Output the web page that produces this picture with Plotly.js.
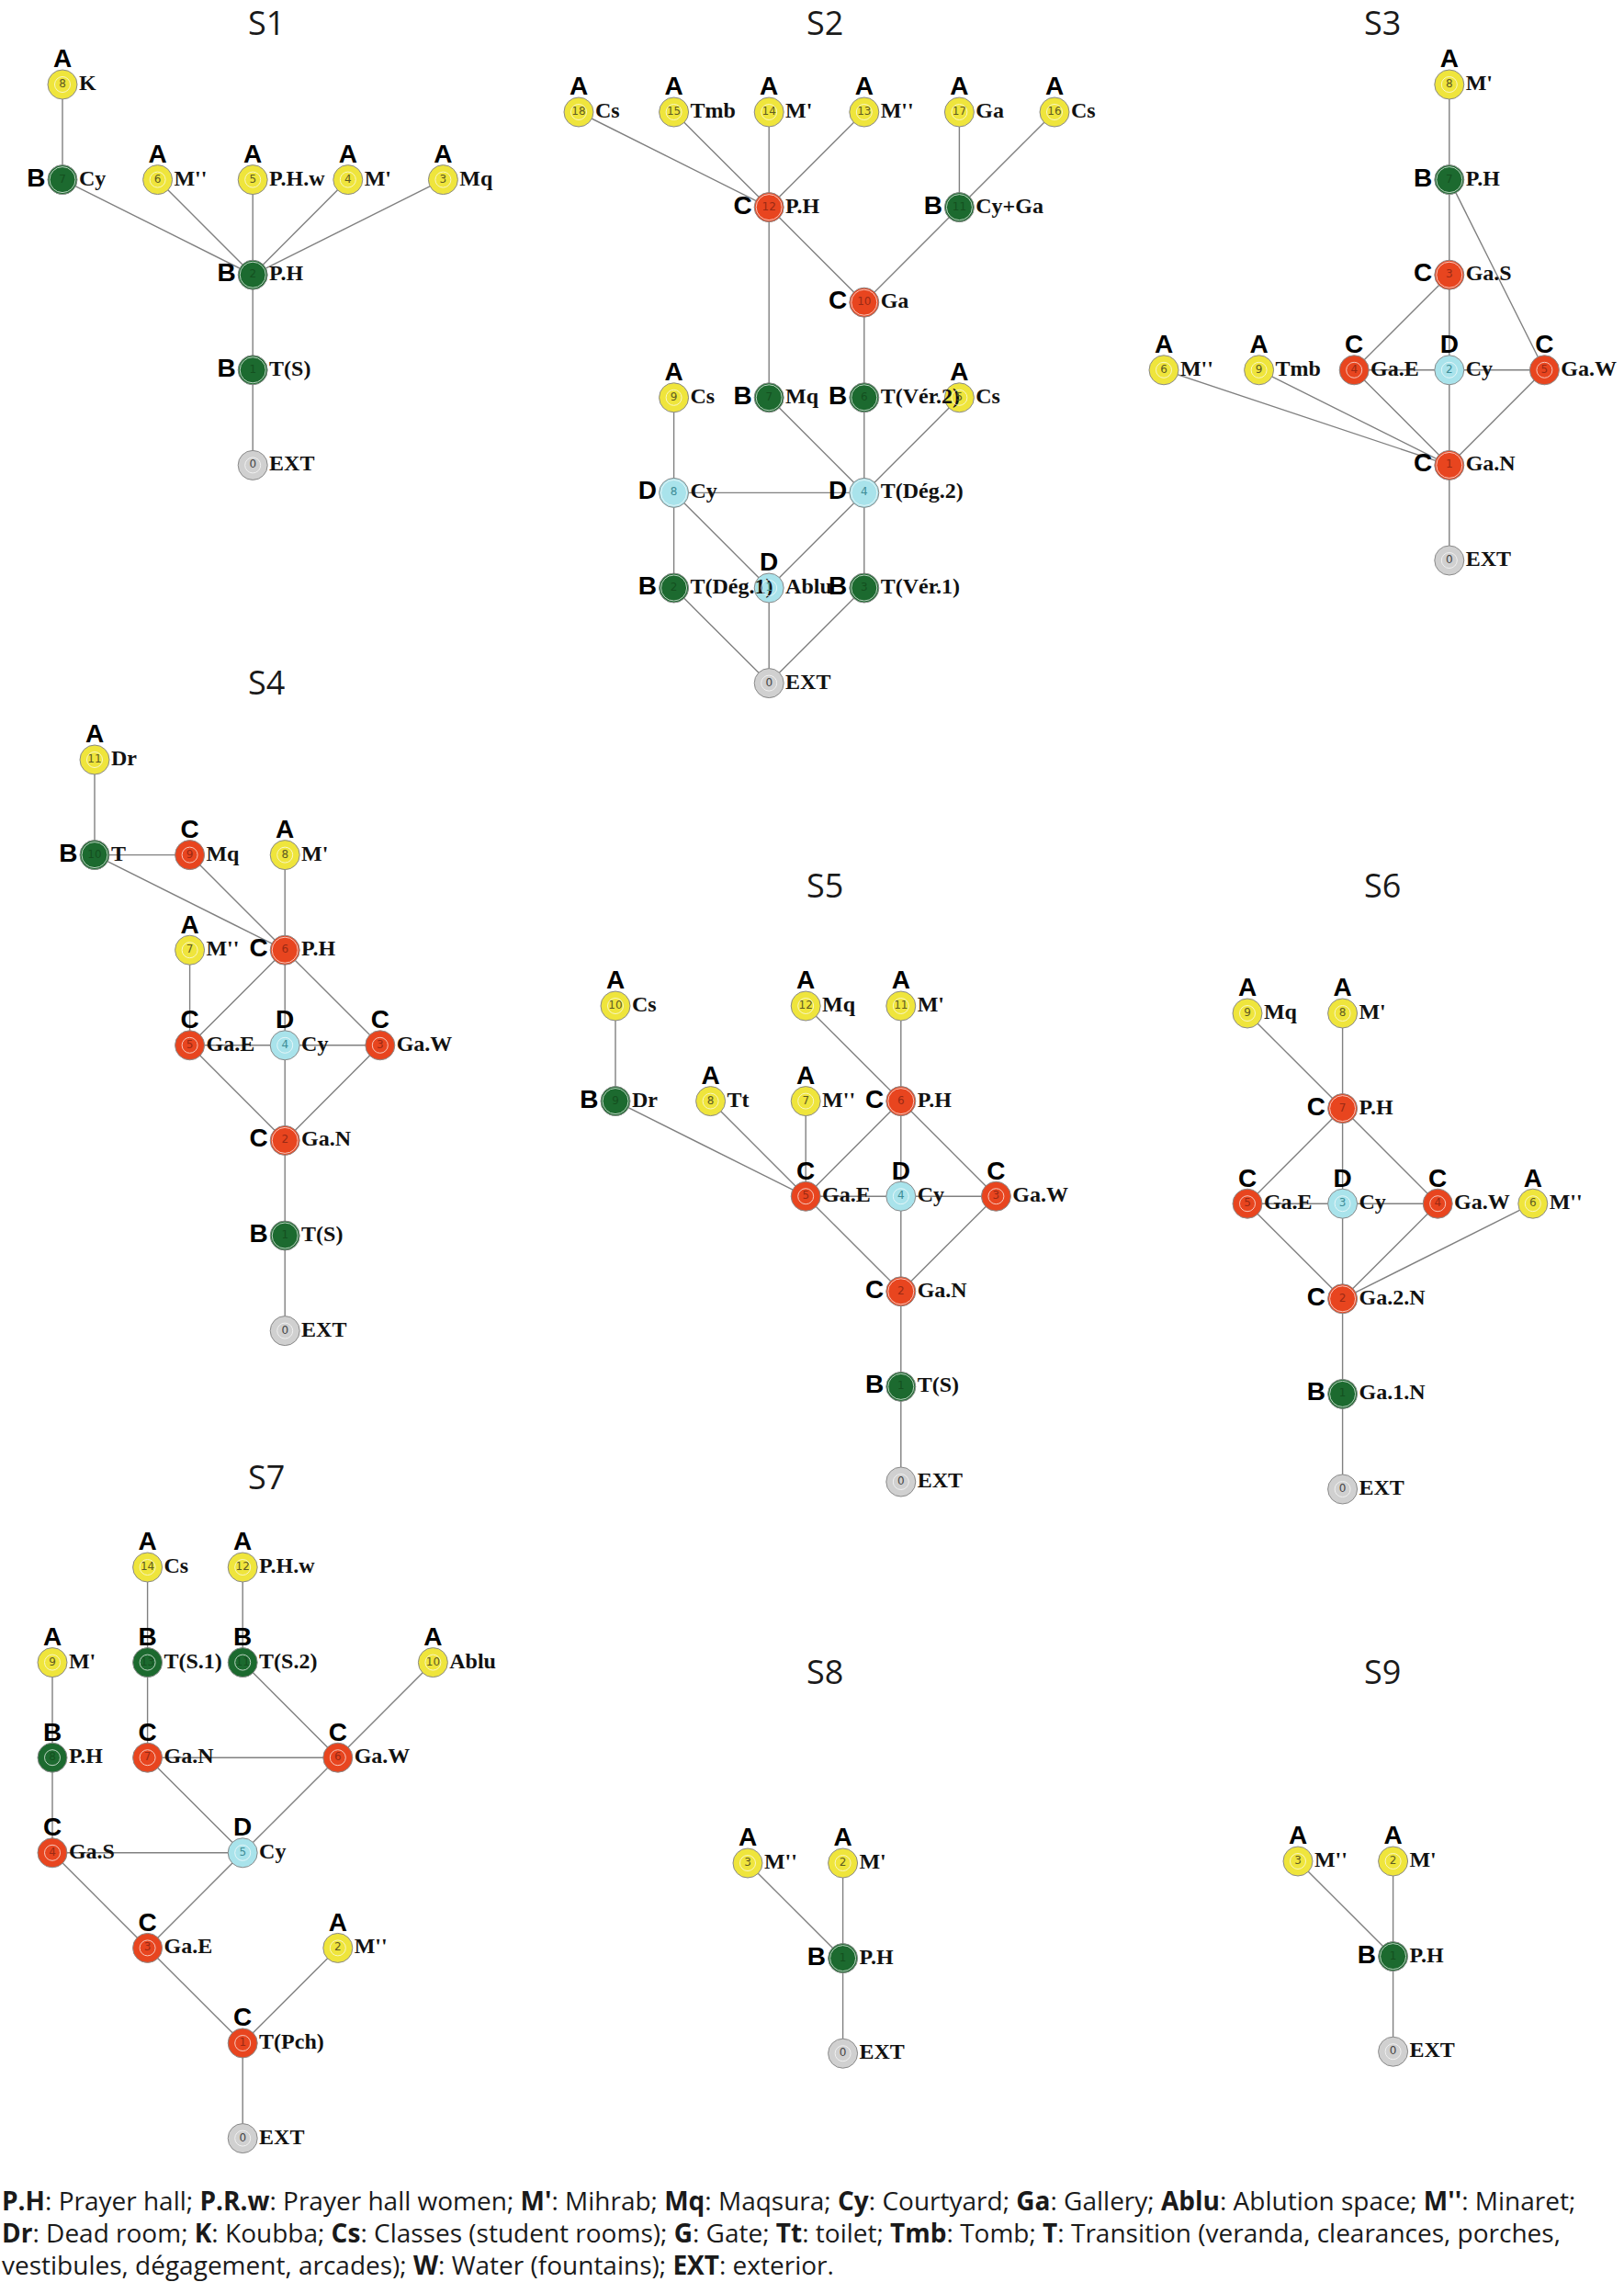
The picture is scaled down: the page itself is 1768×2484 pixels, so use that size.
<!DOCTYPE html>
<html>
<head>
<meta charset="utf-8">
<script src="https://cdn.plot.ly/plotly-3.0.1.min.js"></script>
<style>body{margin:0;background:#fff}</style>
</head>
<body>
<div id="chart" style="width:1768px;height:2484px"></div>
<script>
// ---- graph data: node id, name, access class, grid column/level, edges ----
// tag side: t = class letter above node, l = left of node

// S1
const s1_ids = [8, 7, 6, 5, 4, 3, 2, 1, 0];
const s1_names = ["K", "Cy", "M''", "P.H.w", "M'", "Mq", "P.H", "T(S)", "EXT"];
const s1_class = ["A", "B", "A", "A", "A", "A", "B", "B", ""];
const s1_tag = ["t", "l", "t", "t", "t", "t", "l", "l", ""];
const s1_col = [0, 0, 1, 2, 3, 4, 2, 2, 2];
const s1_level = [0, 1, 1, 1, 1, 1, 2, 3, 4];
const s1_edges = [[8, 7], [7, 2], [6, 2], [5, 2], [4, 2], [3, 2], [2, 1], [1, 0]];

// S2
const s2_ids = [18, 15, 14, 13, 17, 16, 12, 11, 10, 9, 7, 6, 5, 8, 4, 2, 1, 3, 0];
const s2_names = ["Cs", "Tmb", "M'", "M''", "Ga", "Cs", "P.H", "Cy+Ga", "Ga", "Cs", "Mq", "T(Vér.2)", "Cs", "Cy", "T(Dég.2)", "T(Dég.1)", "Ablu", "T(Vér.1)", "EXT"];
const s2_class = ["A", "A", "A", "A", "A", "A", "C", "B", "C", "A", "B", "B", "A", "D", "D", "B", "D", "B", ""];
const s2_tag = ["t", "t", "t", "t", "t", "t", "l", "l", "l", "t", "l", "l", "t", "l", "l", "l", "t", "l", ""];
const s2_col = [0, 1, 2, 3, 4, 5, 2, 4, 3, 1, 2, 3, 4, 1, 3, 1, 2, 3, 2];
const s2_level = [0, 0, 0, 0, 0, 0, 1, 1, 2, 3, 3, 3, 3, 4, 4, 5, 5, 5, 6];
const s2_edges = [[18, 12], [15, 12], [14, 12], [13, 12], [17, 11], [16, 11], [12, 10], [11, 10], [12, 7], [10, 6],
    [9, 8], [7, 4], [6, 4], [5, 4], [8, 4], [8, 2], [8, 1], [4, 1], [4, 3], [2, 0], [1, 0], [3, 0]];

// S3
const s3_ids = [8, 7, 3, 6, 9, 4, 2, 5, 1, 0];
const s3_names = ["M'", "P.H", "Ga.S", "M''", "Tmb", "Ga.E", "Cy", "Ga.W", "Ga.N", "EXT"];
const s3_class = ["A", "B", "C", "A", "A", "C", "D", "C", "C", ""];
const s3_tag = ["t", "l", "l", "t", "t", "t", "t", "t", "l", ""];
const s3_col = [3, 3, 3, 0, 1, 2, 3, 4, 3, 3];
const s3_level = [0, 1, 2, 3, 3, 3, 3, 3, 4, 5];
const s3_edges = [[8, 7], [7, 3], [7, 5], [3, 4], [3, 2], [4, 2], [2, 5], [4, 1], [2, 1], [5, 1], [6, 1], [9, 1], [1, 0]];

// S4
const s4_ids = [11, 10, 9, 8, 7, 6, 5, 4, 3, 2, 1, 0];
const s4_names = ["Dr", "T", "Mq", "M'", "M''", "P.H", "Ga.E", "Cy", "Ga.W", "Ga.N", "T(S)", "EXT"];
const s4_class = ["A", "B", "C", "A", "A", "C", "C", "D", "C", "C", "B", ""];
const s4_tag = ["t", "l", "t", "t", "t", "l", "t", "t", "t", "l", "l", ""];
const s4_col = [0, 0, 1, 2, 1, 2, 1, 2, 3, 2, 2, 2];
const s4_level = [0, 1, 1, 1, 2, 2, 3, 3, 3, 4, 5, 6];
const s4_edges = [[11, 10], [10, 9], [10, 6], [9, 6], [8, 6], [7, 5], [6, 5], [6, 4], [6, 3], [5, 4], [4, 3],
    [5, 2], [4, 2], [3, 2], [2, 1], [1, 0]];

// S5
const s5_ids = [10, 12, 11, 9, 8, 7, 6, 5, 4, 3, 2, 1, 0];
const s5_names = ["Cs", "Mq", "M'", "Dr", "Tt", "M''", "P.H", "Ga.E", "Cy", "Ga.W", "Ga.N", "T(S)", "EXT"];
const s5_class = ["A", "A", "A", "B", "A", "A", "C", "C", "D", "C", "C", "B", ""];
const s5_tag = ["t", "t", "t", "l", "t", "t", "l", "t", "t", "t", "l", "l", ""];
const s5_col = [0, 2, 3, 0, 1, 2, 3, 2, 3, 4, 3, 3, 3];
const s5_level = [0, 0, 0, 1, 1, 1, 1, 2, 2, 2, 3, 4, 5];
const s5_edges = [[10, 9], [12, 6], [11, 6], [9, 5], [8, 5], [7, 5], [6, 5], [6, 4], [6, 3], [5, 4], [4, 3],
    [5, 2], [4, 2], [3, 2], [2, 1], [1, 0]];

// S6
const s6_ids = [9, 8, 7, 5, 3, 4, 6, 2, 1, 0];
const s6_names = ["Mq", "M'", "P.H", "Ga.E", "Cy", "Ga.W", "M''", "Ga.2.N", "Ga.1.N", "EXT"];
const s6_class = ["A", "A", "C", "C", "D", "C", "A", "C", "B", ""];
const s6_tag = ["t", "t", "l", "t", "t", "t", "t", "l", "l", ""];
const s6_col = [0, 1, 1, 0, 1, 2, 3, 1, 1, 1];
const s6_level = [0, 0, 1, 2, 2, 2, 2, 3, 4, 5];
const s6_edges = [[9, 7], [8, 7], [7, 5], [7, 3], [7, 4], [5, 3], [3, 4], [5, 2], [3, 2], [4, 2], [6, 2], [2, 1], [1, 0]];

// S7
const s7_ids = [14, 12, 9, 13, 11, 10, 8, 7, 6, 4, 5, 3, 2, 1, 0];
const s7_names = ["Cs", "P.H.w", "M'", "T(S.1)", "T(S.2)", "Ablu", "P.H", "Ga.N", "Ga.W", "Ga.S", "Cy", "Ga.E", "M''", "T(Pch)", "EXT"];
const s7_class = ["A", "A", "A", "B", "B", "A", "B", "C", "C", "C", "D", "C", "A", "C", ""];
const s7_tag = ["t", "t", "t", "t", "t", "t", "t", "t", "t", "t", "t", "t", "t", "t", ""];
const s7_col = [1, 2, 0, 1, 2, 4, 0, 1, 3, 0, 2, 1, 3, 2, 2];
const s7_level = [0, 0, 1, 1, 1, 1, 2, 2, 2, 3, 3, 4, 4, 5, 6];
const s7_edges = [[14, 13], [12, 11], [9, 8], [13, 7], [11, 6], [10, 6], [8, 4], [7, 6], [7, 5], [6, 5], [4, 5],
    [4, 3], [5, 3], [3, 1], [2, 1], [1, 0]];

// S8
const s8_ids = [3, 2, 1, 0];
const s8_names = ["M''", "M'", "P.H", "EXT"];
const s8_class = ["A", "A", "B", ""];
const s8_tag = ["t", "t", "l", ""];
const s8_col = [0, 1, 1, 1];
const s8_level = [0, 0, 1, 2];
const s8_edges = [[3, 1], [2, 1], [1, 0]];

// S9
const s9_ids = [3, 2, 1, 0];
const s9_names = ["M''", "M'", "P.H", "EXT"];
const s9_class = ["A", "A", "B", ""];
const s9_tag = ["t", "t", "l", ""];
const s9_col = [0, 1, 1, 1];
const s9_level = [0, 0, 1, 2];
const s9_edges = [[3, 1], [2, 1], [1, 0]];

const footer_lines = [
    "<b>P.H</b>: Prayer hall; <b>P.R.w</b>: Prayer hall women; <b>M'</b>: Mihrab; <b>Mq</b>: Maqsura; <b>Cy</b>: Courtyard; <b>Ga</b>: Gallery; <b>Ablu</b>: Ablution space; <b>M''</b>: Minaret;",
    "<b>Dr</b>: Dead room; <b>K</b>: Koubba; <b>Cs</b>: Classes (student rooms); <b>G</b>: Gate; <b>Tt</b>: toilet; <b>Tmb</b>: Tomb; <b>T</b>: Transition (veranda, clearances, porches,",
    "vestibules, dégagement, arcades); <b>W</b>: Water (fountains); <b>EXT</b>: exterior.",
];

// ---- drawing ----
const graphs = [
    {title: "S1", ids: s1_ids, names: s1_names, cls: s1_class, tag: s1_tag, col: s1_col, level: s1_level, edges: s1_edges},
    {title: "S2", ids: s2_ids, names: s2_names, cls: s2_class, tag: s2_tag, col: s2_col, level: s2_level, edges: s2_edges},
    {title: "S3", ids: s3_ids, names: s3_names, cls: s3_class, tag: s3_tag, col: s3_col, level: s3_level, edges: s3_edges},
    {title: "S4", ids: s4_ids, names: s4_names, cls: s4_class, tag: s4_tag, col: s4_col, level: s4_level, edges: s4_edges},
    {title: "S5", ids: s5_ids, names: s5_names, cls: s5_class, tag: s5_tag, col: s5_col, level: s5_level, edges: s5_edges},
    {title: "S6", ids: s6_ids, names: s6_names, cls: s6_class, tag: s6_tag, col: s6_col, level: s6_level, edges: s6_edges},
    {title: "S7", ids: s7_ids, names: s7_names, cls: s7_class, tag: s7_tag, col: s7_col, level: s7_level, edges: s7_edges},
    {title: "S8", ids: s8_ids, names: s8_names, cls: s8_class, tag: s8_tag, col: s8_col, level: s8_level, edges: s8_edges},
    {title: "S9", ids: s9_ids, names: s9_names, cls: s9_class, tag: s9_tag, col: s9_col, level: s9_level, edges: s9_edges},
];

const W = 1768, H = 2484;
const U = 103.6; // px per grid step
// where grid (0,0) of each panel sits, and where its title sits (page px)
const origins = [[68, 92], [630, 122], [1267, 92], [103, 827], [670, 1095], [1358, 1103], [57, 1706], [814, 2028], [1413, 2026]];
const title_pos = [[290, 24], [898, 24], [1505, 24], [290, 742], [898, 964], [1505, 964], [290, 1607], [898, 1819], [1505, 1819]];

const node_fill = {A: "#efe53c", B: "#1c6a2f", C: "#e8451f", D: "#a9e3eb", "": "#d0d0d0"};
const num_color = {A: "#5e5a22", B: "#14501f", C: "#9a2a14", D: "#3d8c96", "": "#444"};
const NODE = 32;

const data = [];
const layout = {
    width: W,
    height: H,
    margin: {l: 0, r: 0, t: 0, b: 0},
    showlegend: false,
    paper_bgcolor: "#ffffff",
    plot_bgcolor: "rgba(0,0,0,0)",
    annotations: [],
};

graphs.forEach((g, k) => {
    const n = k === 0 ? "" : String(k + 1);
    const [ox, oy] = origins[k];
    layout["xaxis" + n] = {domain: [0, 1], range: [-ox / U, (W - ox) / U], visible: false, fixedrange: true, anchor: "y" + n};
    layout["yaxis" + n] = {domain: [0, 1], range: [(H - oy) / U, -oy / U], visible: false, fixedrange: true, anchor: "x" + n};
    const xa = "x" + n, ya = "y" + n;

    const idx = {};
    g.ids.forEach((id, i) => { idx[id] = i; });
    const ex = [], ey = [];
    g.edges.forEach(([a, b]) => {
        ex.push(g.col[idx[a]], g.col[idx[b]], null);
        ey.push(g.level[idx[a]], g.level[idx[b]], null);
    });

    // edges
    data.push({
        x: ex, y: ey, xaxis: xa, yaxis: ya,
        mode: "lines", type: "scatter", hoverinfo: "skip",
        line: {color: "#808080", width: 1.4},
    });

    // nodes
    data.push({
        x: g.col, y: g.level, xaxis: xa, yaxis: ya,
        mode: "markers", type: "scatter", hoverinfo: "skip",
        marker: {size: NODE, color: g.cls.map(c => node_fill[c]), line: {color: "#8a8a8a", width: 1}},
    });

    // space names, right of node (transparent marker only sets the text gap)
    data.push({
        x: g.col, y: g.level, xaxis: xa, yaxis: ya,
        mode: "markers+text", type: "scatter", hoverinfo: "skip",
        marker: {size: 27, color: "rgba(0,0,0,0)"},
        text: g.names.map(s => "<b>" + s + "</b>"),
        textposition: "middle right",
        textfont: {family: "Liberation Serif", size: 24, color: "#111"},
    });

    // node numbers
    data.push({
        x: g.col, y: g.level, xaxis: xa, yaxis: ya,
        mode: "text", type: "scatter", hoverinfo: "skip",
        text: g.ids.map(String),
        textposition: "middle center",
        textfont: {family: "DejaVu Sans", size: 12, color: g.cls.map(c => num_color[c])},
    });

    // class letters
    data.push({
        x: g.col, y: g.level, xaxis: xa, yaxis: ya,
        mode: "markers+text", type: "scatter", hoverinfo: "skip",
        marker: {size: g.tag.map(t => t === "l" ? 28 : 17), color: "rgba(0,0,0,0)"},
        text: g.cls,
        textposition: g.tag.map(t => t === "l" ? "middle left" : "top center"),
        textfont: {family: "Liberation Sans", size: 28, color: "#000", weight: "bold"},
    });

    layout.annotations.push({
        xref: "paper", yref: "paper",
        x: title_pos[k][0] / W, y: 1 - title_pos[k][1] / H,
        xanchor: "center", yanchor: "middle",
        text: g.title, showarrow: false,
        font: {family: "Open Sans", size: 36, color: "#1a1a1a"},
    });
});

const footer_y = [2395, 2430, 2465];
footer_lines.forEach((line, i) => {
    layout.annotations.push({
        xref: "paper", yref: "paper",
        x: 0, y: 1 - footer_y[i] / H,
        xanchor: "left", yanchor: "middle", align: "left",
        text: line, showarrow: false,
        font: {family: "Open Sans", size: 28, color: "#1a1a1a"},
    });
});

Plotly.newPlot("chart", data, layout, {staticPlot: true});
</script>
</body>
</html>
